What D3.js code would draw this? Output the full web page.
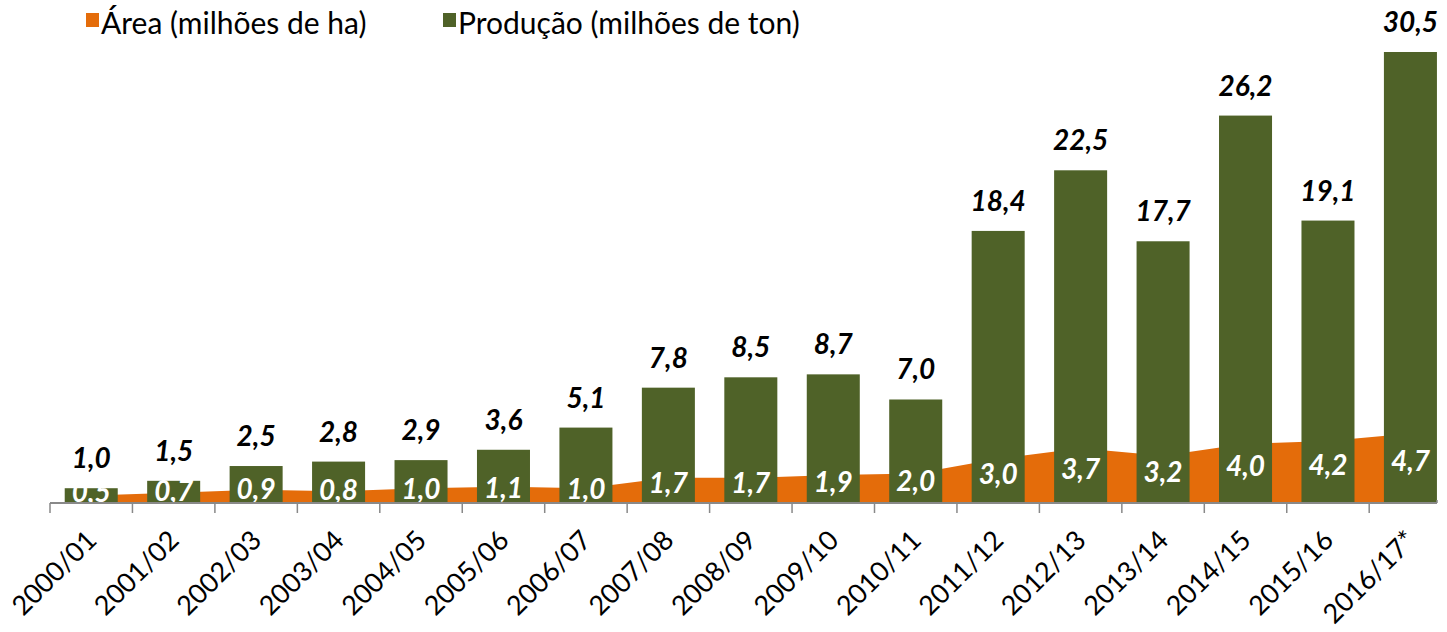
<!DOCTYPE html>
<html>
<head>
<meta charset="utf-8">
<script src="https://cdn.jsdelivr.net/npm/d3@7"></script>
<style>
  body { margin: 0; background: #fff; }
  text { font-family: Lato, "Noto Sans", sans-serif; }
</style>
</head>
<body>
<div id="chart"></div>
<script>
// dados
var categories = ["2000/01","2001/02","2002/03","2003/04","2004/05","2005/06","2006/07","2007/08","2008/09",
                  "2009/10","2010/11","2011/12","2012/13","2013/14","2014/15","2015/16","2016/17*"];
var producao = [1.0, 1.5, 2.5, 2.8, 2.9, 3.6, 5.1, 7.8, 8.5, 8.7, 7.0, 18.4, 22.5, 17.7, 26.2, 19.1, 30.5];
var areaHa   = [0.5, 0.7, 0.9, 0.8, 1.0, 1.1, 1.0, 1.7, 1.7, 1.9, 2.0, 3.0, 3.7, 3.2, 4.0, 4.2, 4.7];
var legendItems = ["Área (milhões de ha)", "Produção (milhões de ton)"];

var width = 1447, height = 632;
var left = 50, axisEnd = 1437, baseY = 503, topY = 52;
var orange = "#E46C0A", green = "#4F6228", axisColor = "#898989";

var pad = 0.357;
var x = d3.scaleBand().domain(categories)
    .range([left, left + 82.45 * categories.length])
    .paddingInner(pad).paddingOuter(pad / 2);
var y = d3.scaleLinear().domain([0, d3.max(producao)]).range([baseY, topY]);

var fmt = function (v) { return d3.format(".1f")(v).replace(".", ","); };
var cx = function (i) { return x(categories[i]) + x.bandwidth() / 2; };

var svg = d3.select("#chart").append("svg").attr("width", width).attr("height", height);

svg.append("clipPath").attr("id", "plot")
  .append("rect").attr("x", left).attr("y", 0).attr("width", axisEnd - left).attr("height", baseY);

var plot = svg.append("g").attr("clip-path", "url(#plot)");

// área (atrás das colunas)
var areaGen = d3.area()
    .x(function (d, i) { return cx(i); })
    .y0(y(0))
    .y1(function (d) { return y(d); });
plot.append("path").datum(areaHa).attr("d", areaGen).attr("fill", orange);

// colunas de produção
plot.selectAll(".bar").data(producao).enter().append("rect")
    .attr("x", function (d, i) { return x(categories[i]); })
    .attr("y", function (d) { return y(d); })
    .attr("width", x.bandwidth())
    .attr("height", function (d) { return y(0) - y(d); })
    .attr("fill", green);

// rótulos da área (brancos, dentro das colunas)
plot.selectAll(".alab").data(areaHa).enter().append("text")
    .attr("x", function (d, i) { return cx(i); })
    .attr("y", function (d) { return y(d / 2) + 3; })
    .attr("text-anchor", "middle")
    .attr("font-size", 28).attr("font-weight", "bold").attr("font-style", "italic")
    .attr("fill", "#fff")
    .text(fmt);

// rótulos de produção
svg.selectAll(".plab").data(producao).enter().append("text")
    .attr("x", function (d, i) { return cx(i); })
    .attr("y", function (d) { return y(d) - 20; })
    .attr("text-anchor", "middle")
    .attr("font-size", 28).attr("font-weight", "bold").attr("font-style", "italic")
    .attr("fill", "#000")
    .text(fmt);

// eixo x
svg.append("line").attr("x1", left).attr("y1", baseY).attr("x2", axisEnd).attr("y2", baseY)
    .attr("stroke", axisColor).attr("stroke-width", 2);
svg.append("line").attr("x1", axisEnd).attr("y1", baseY - 3).attr("x2", axisEnd).attr("y2", baseY)
    .attr("stroke", axisColor).attr("stroke-width", 1.5);
svg.selectAll(".tick").data(categories).enter().append("line")
    .attr("x1", function (d) { return x(d) - x.step() * pad / 2; })
    .attr("x2", function (d) { return x(d) - x.step() * pad / 2; })
    .attr("y1", baseY).attr("y2", baseY + 10)
    .attr("stroke", axisColor).attr("stroke-width", 1.5);

svg.selectAll(".xlab").data(categories).enter().append("text")
    .attr("transform", function (d, i) { return "translate(" + (cx(i) + 7) + "," + 542 + ") rotate(-45)"; })
    .attr("text-anchor", "end")
    .attr("font-size", 27)
    .attr("fill", "#000")
    .text(function (d) { return d; });

// legenda
var legendX = [86, 443];
var legend = svg.selectAll(".leg").data(legendItems).enter().append("g")
    .attr("transform", function (d, i) { return "translate(" + legendX[i] + ",13)"; });
legend.append("rect").attr("width", 13).attr("height", 14)
    .attr("fill", function (d, i) { return i == 0 ? orange : green; });
legend.append("text").attr("x", 15).attr("y", 21).attr("font-size", 30).attr("fill", "#000")
    .text(function (d) { return d; });
</script>
</body>
</html>
